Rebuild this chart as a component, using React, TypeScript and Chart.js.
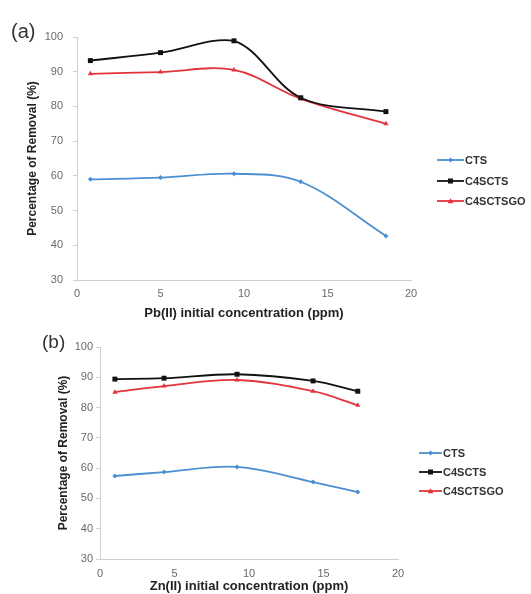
import React, { useEffect, useRef } from "react";
import { Chart, registerables } from "chart.js";

Chart.register(...registerables);

// ---- Data: panel (a) Pb(II) ----
const xPb = [0.8, 5.0, 9.4, 13.4, 18.5];
const ctsPb = [59.0, 59.5, 60.6, 58.3, 42.7];
const c4sctsPb = [93.2, 95.5, 98.9, 82.5, 78.5];
const c4sctsgoPb = [89.4, 89.9, 90.5, 82.2, 75.0];

// ---- Data: panel (b) Zn(II) ----
const xZn = [1.0, 4.3, 9.2, 14.3, 17.3];
const ctsZn = [57.4, 58.7, 60.4, 55.4, 52.1];
const c4sctsZn = [89.4, 89.7, 91.0, 88.8, 85.4];
const c4sctsgoZn = [85.1, 87.1, 89.1, 85.4, 80.8];

const seriesNames = ["CTS", "C4SCTS", "C4SCTSGO"];
const yTicks = [30, 40, 50, 60, 70, 80, 90, 100];
const xTicks = [0, 5, 10, 15, 20];

const COLORS = ["#4a8fd0", "#111111", "#e2343c"];
const POINT_STYLES = ["rectRot", "rect", "triangle"];
const POINT_RADII = [2.5, 3.5, 3];
const FONT = "'Liberation Sans', Arial, sans-serif";

type PanelCfg = {
  xs: number[];
  series: number[][];
  xTitle: string;
  yAxisWidth: number;
  xAxisHeight: number;
  padTop: number;
  padRight: number;
  yTitlePad: number;
  xTitlePad: number;
  yTickPad: number;
  xTickPad: number;
  width: number;
  height: number;
};

function Panel({ cfg }: { cfg: PanelCfg }) {
  const ref = useRef<HTMLCanvasElement | null>(null);
  useEffect(() => {
    if (!ref.current) return;
    const datasets = cfg.series.map((vals, i) => ({
      label: seriesNames[i],
      data: vals.map((v, j) => ({ x: cfg.xs[j], y: v })),
      borderColor: COLORS[i],
      backgroundColor: COLORS[i],
      borderWidth: 1.8,
      pointStyle: POINT_STYLES[i] as any,
      pointRadius: POINT_RADII[i],
      pointBorderWidth: 0,
      tension: 0.35,
      fill: false,
    }));
    const chart = new Chart(ref.current, {
      type: "line",
      data: { datasets },
      options: {
        animation: false,
        responsive: false,
        layout: { padding: { top: cfg.padTop, right: cfg.padRight, left: 0, bottom: 0 } },
        plugins: { legend: { display: false }, tooltip: { enabled: false } },
        scales: {
          x: {
            type: "linear",
            min: 0,
            max: 20,
            afterBuildTicks: (s: any) => {
              s.ticks = xTicks.map((v) => ({ value: v }));
            },
            afterFit: (s: any) => {
              s.height = cfg.xAxisHeight;
            },
            grid: { display: true, drawOnChartArea: false, drawTicks: false, color: "#d0d0d0" },
            border: { display: true, color: "#cfcfcf", width: 1 },
            ticks: { color: "#6a6a6a", font: { family: FONT, size: 11 }, padding: cfg.xTickPad },
            title: {
              display: true,
              text: cfg.xTitle,
              color: "#222",
              font: { family: FONT, size: 13, weight: "bold" },
              padding: { top: 0, bottom: cfg.xTitlePad },
            },
          },
          y: {
            type: "linear",
            min: 30,
            max: 100,
            afterBuildTicks: (s: any) => {
              s.ticks = yTicks.map((v) => ({ value: v }));
            },
            afterFit: (s: any) => {
              s.width = cfg.yAxisWidth;
            },
            grid: { display: true, drawOnChartArea: false, tickLength: 4, color: "#d0d0d0" },
            border: { display: true, color: "#cfcfcf", width: 1 },
            ticks: { color: "#6a6a6a", font: { family: FONT, size: 11 }, padding: cfg.yTickPad },
            title: {
              display: true,
              text: "Percentage of Removal (%)",
              color: "#222",
              font: { family: FONT, size: 12, weight: "bold" },
              padding: { top: cfg.yTitlePad, bottom: 0 },
            },
          },
        },
      },
    });
    return () => chart.destroy();
  }, [cfg]);
  return <canvas ref={ref} width={cfg.width} height={cfg.height} style={{ display: "block" }} />;
}

function Marker({ i, cx }: { i: number; cx: number }) {
  const c = COLORS[i];
  if (i === 0) return <polygon points={`${cx},3.5 ${cx + 2.5},6 ${cx},8.5 ${cx - 2.5},6`} fill={c} />;
  if (i === 1) return <rect x={cx - 2.5} y={3.5} width={5} height={5} fill={c} />;
  return <polygon points={`${cx},3.3 ${cx + 2.8},8.2 ${cx - 2.8},8.2`} fill={c} />;
}

function Legend({ left, top, gap, lineW }: { left: number; top: number; gap: number; lineW: number }) {
  return (
    <div style={{ position: "absolute", left, top }}>
      {seriesNames.map((n, i) => (
        <div key={n} style={{ position: "absolute", left: 0, top: i * gap, display: "flex", alignItems: "center", whiteSpace: "nowrap" }}>
          <svg width={lineW} height={12} style={{ display: "block" }}>
            <line x1={0} y1={6} x2={lineW} y2={6} stroke={COLORS[i]} strokeWidth={1.8} />
            <Marker i={i} cx={lineW / 2} />
          </svg>
          <span style={{ fontFamily: FONT, fontWeight: "bold", fontSize: 11, color: "#333", marginLeft: 1, lineHeight: "12px" }}>{n}</span>
        </div>
      ))}
    </div>
  );
}

const cfgA: PanelCfg = {
  xs: xPb,
  series: [ctsPb, c4sctsPb, c4sctsgoPb],
  xTitle: "Pb(II) initial concentration (ppm)",
  yAxisWidth: 77,
  xAxisHeight: 45,
  padTop: 37,
  padRight: 120,
  yTitlePad: 25,
  xTitlePad: 4,
  yTickPad: 10,
  xTickPad: 7,
  width: 531,
  height: 325,
};

const cfgB: PanelCfg = {
  xs: xZn,
  series: [ctsZn, c4sctsZn, c4sctsgoZn],
  xTitle: "Zn(II) initial concentration (ppm)",
  yAxisWidth: 100,
  xAxisHeight: 35,
  padTop: 22,
  padRight: 133,
  yTitlePad: 56,
  xTitlePad: 0,
  yTickPad: 3,
  xTickPad: 8,
  width: 531,
  height: 269,
};

export default function App() {
  return (
    <div style={{ position: "absolute", left: 0, top: 0, width: 531, height: 594, background: "#fff", overflow: "hidden" }}>
      <div style={{ position: "absolute", left: 0, top: 0 }}>
        <Panel cfg={cfgA} />
      </div>
      <div style={{ position: "absolute", left: 0, top: 325 }}>
        <Panel cfg={cfgB} />
      </div>
      <div style={{ position: "absolute", left: 11, top: 20, fontFamily: FONT, fontSize: 20, color: "#333" }}>(a)</div>
      <div style={{ position: "absolute", left: 42, top: 331, fontFamily: FONT, fontSize: 19, color: "#333" }}>(b)</div>
      <Legend left={437} top={154} gap={20.5} lineW={27} />
      <Legend left={419} top={447} gap={19} lineW={23} />
    </div>
  );
}
